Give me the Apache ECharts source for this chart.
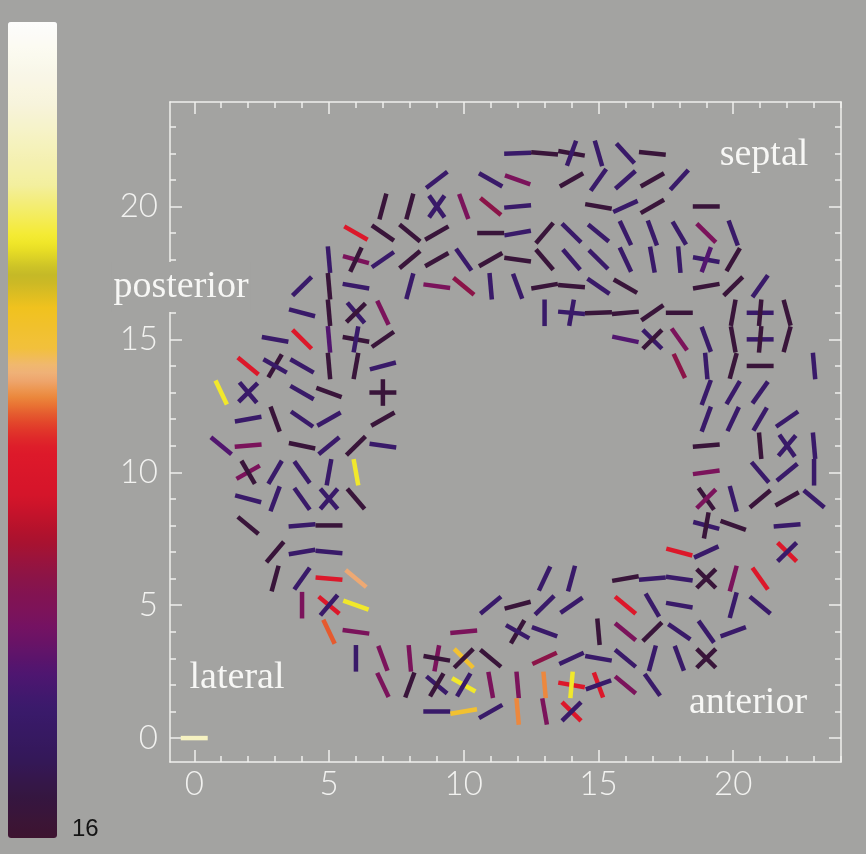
<!DOCTYPE html>
<html lang="en">
<head>
<meta charset="UTF-8">
<title>Fibre orientation map</title>
<style>
  html, body { margin: 0; padding: 0; background: #a3a3a1; }
  #main { width: 866px; height: 854px; }
</style>
</head>
<body>
<div id="main"></div>
<script src="https://cdn.jsdelivr.net/npm/echarts/dist/echarts.min.js"></script>
<script>
// colour levels (0 = white top, 16 = dark bottom)
const D = 15.5, B = 13.6, P = 12.7, M = 11.6, MR = 10.9, R = 8.6,
      OR = 7.7, O = 7.35, PE = 7.0, G = 6.1, Y = 4.3, LY = 2.3;

// segments: [x, y, angle (deg), level]
const upperRows = [
  [12,22,2,B],[13,22,-5,D],[14,22,-10,D],[14,22,70,B],[15,22,106,B],[16,22,132,B],[17,22,-6,D],
  [9,21,38,B],[11,21,150,B],[12,21,160,M],[14,21,30,D],[15,21,55,B],[16,21,42,B],[17,21,30,D],[18,21,48,B],
  [7,20,75,D],[8,20,75,D],[9,20,55,B],[9,20,125,B],[10,20,110,M],[11,20,140,MR],[12,20,5,B],
  [15,20,-10,D],[16,20,25,B],[17,20,30,D],[19,20,0,D],
  [6,19,150,R],[7,19,145,D],[8,19,140,D],[9,19,30,D],[11,19,0,D],[12,19,10,B],[13,19,50,D],
  [14,19,135,B],[15,19,140,B],[16,19,115,B],[17,19,110,B],[18,19,120,B],[19,19,135,M],[20,19,110,B],
  [5,18,95,B],[6,18,165,M],[6,18,65,D],[7,18,35,B],[8,18,40,D],[9,18,30,D],[10,18,125,B],[11,18,30,D],
  [12,18,172,D],[13,18,130,D],[14,18,130,B],[15,18,135,B],[16,18,115,B],[17,18,100,B],[18,18,95,B],
  [19,18,-10,B],[19,18,70,P],[20,18,60,D],
  [4,17,45,B],[5,17,95,D],[6,17,170,B],[8,17,75,B],[9,17,172,M],[10,17,140,MR],[11,17,95,B],
  [12,17,110,B],[13,17,10,D],[14,17,-5,D],[15,17,145,B],[16,17,150,D],[19,17,10,D],[20,17,45,D],[21,17,55,B],
  [4,16,165,B],[5,16,95,D],[6,16,130,B],[6,16,45,D],[7,16,115,M],[13,16,90,B],[14,16,-5,B],[14,16,80,B],
  [15,16,2,D],[16,16,5,D],[17,16,35,D],[18,16,0,D],[20,16,80,D],[21,16,0,B],[21,16,85,D],[22,16,105,D],
  [3,15,170,B],[4,15,135,R],[5,15,95,P],[6,15,170,D],[6,15,80,B],[7,15,35,D],[16,15,168,P],
  [17,15,135,B],[17,15,45,D],[18,15,125,M],[19,15,110,B],[20,15,100,D],[21,15,0,B],[21,15,85,D],[22,15,75,D]
];

const middleRows = [
  [2,14,140,R],[3,14,60,D],[3,14,150,B],[4,14,150,B],[5,14,95,D],[6,14,80,D],[7,14,15,B],
  [18,14,115,MR],[19,14,95,B],[20,14,75,D],[21,14,0,D],[23,14,95,B],
  [1,13,115,Y],[2,13,45,B],[2,13,130,B],[4,13,150,B],[5,13,160,D],[7,13,0,D],[7,13,90,D],
  [19,13,70,B],[20,13,60,B],[21,13,55,B],
  [2,12,10,B],[3,12,110,D],[4,12,145,B],[5,12,30,B],[7,12,30,D],[19,12,70,B],[20,12,65,B],[21,12,60,B],[22,12,35,B],
  [1,11,140,P],[2,11,5,M],[4,11,168,D],[5,11,40,B],[6,11,45,D],[7,11,172,B],
  [19,11,5,D],[21,11,95,D],[22,11,125,B],[22,11,50,B],[23,11,95,B],
  [2,10,30,M],[2,10,120,D],[3,10,60,B],[4,10,125,B],[5,10,80,B],[6,10,100,Y],
  [19,10,8,M],[21,10,130,B],[22,10,40,B],[23,10,90,B],
  [2,9,165,B],[3,9,70,B],[4,9,125,B],[5,9,50,B],[5,9,130,B],[6,9,130,D],
  [19,9,125,D],[19,9,45,M],[20,9,105,B],[21,9,40,D],[22,9,30,D],[23,9,140,B],
  [2,8,140,D],[4,8,5,B],[5,8,0,D],[19,8,-15,B],[19,8,80,D],[20,8,160,D],[22,8,5,B]
];

const lowerRows = [
  [3,7,50,D],[4,7,10,B],[5,7,-5,B],[18,7,165,R],[19,7,25,B],[22,7,135,R],[22,7,45,B],
  [3,6,75,D],[4,6,55,B],[5,6,-5,R],[6,6,140,PE],[13,6,65,B],[14,6,75,B],[16,6,10,D],[17,6,5,B],
  [18,6,-8,B],[19,6,135,D],[19,6,45,D],[20,6,75,M],[21,6,125,R],
  [4,5,90,M],[5,5,140,R],[5,5,50,B],[6,5,160,Y],[11,5,40,B],[12,5,15,D],[13,5,45,B],[14,5,35,B],
  [16,5,140,R],[17,5,120,B],[18,5,170,B],[20,5,75,B],[21,5,140,B],
  [5,4,115,OR],[6,4,172,M],[10,4,5,M],[12,4,60,D],[12,4,150,B],[13,4,160,B],[15,4,95,D],
  [16,4,140,M],[17,4,45,D],[18,4,145,B],[19,4,125,B],[20,4,20,B],
  [6,3,90,B],[7,3,110,M],[8,3,95,M],[9,3,80,M],[9,3,-10,D],[10,3,135,G],[10,3,45,D],[11,3,140,D],
  [13,3,25,MR],[14,3,25,B],[15,3,-10,B],[16,3,140,B],[17,3,75,B],[18,3,110,B],[19,3,135,D],[19,3,45,D],
  [7,2,115,M],[8,2,70,D],[9,2,140,B],[9,2,60,D],[10,2,150,Y],[10,2,60,B],[11,2,100,M],[12,2,95,M],
  [13,2,95,O],[14,2,-10,R],[14,2,85,Y],[15,2,110,R],[15,2,20,B],[16,2,140,M],[17,2,125,B],
  [9,1,0,B],[10,1,10,G],[11,1,30,B],[12,1,95,O],[13,1,100,M],[14,1,135,R],[14,1,45,B]
];

// reference bar at the origin
const keySegment = [[0,0,0,LY]];

const xLabels = [0, 5, 10, 15, 20];
const yLabels = [0, 5, 10, 15, 20];
const unitTicks = Array.from({length: 25}, (_, i) => i);

// colour scale, top (white) to bottom (dark)
const scaleStops = [
  [0.00,'#fdfdfc'],[0.10,'#f7f4dc'],[0.20,'#f3ef9e'],[0.27,'#f4ea24'],[0.31,'#c0b628'],
  [0.35,'#f0c21e'],[0.40,'#f2c03c'],[0.43,'#efb486'],[0.46,'#ec8838'],[0.49,'#e2462a'],
  [0.52,'#de1a2a'],[0.58,'#d6142a'],[0.63,'#ae122c'],[0.68,'#8a1448'],[0.74,'#761262'],
  [0.80,'#4e1670'],[0.84,'#3a1a6c'],[0.90,'#34185a'],[0.95,'#351640'],[1.00,'#3e1430']
];

function hexToRgb(h) {
  return [1, 3, 5].map(i => parseInt(h.slice(i, i + 2), 16));
}
function sampleScale(n) {
  const out = [];
  for (let k = 0; k < n; k++) {
    const t = k / (n - 1);
    let j = 0;
    while (j < scaleStops.length - 2 && scaleStops[j + 1][0] < t) j++;
    const [t0, c0] = scaleStops[j], [t1, c1] = scaleStops[j + 1];
    const f = Math.min(1, Math.max(0, (t - t0) / (t1 - t0)));
    const a = hexToRgb(c0), b = hexToRgb(c1);
    out.push('rgb(' + a.map((v, i) => Math.round(v + (b[i] - v) * f)).join(',') + ')');
  }
  return out;
}

const segments = upperRows.concat(middleRows, lowerRows, keySegment)
  .map(s => [s[0], s[1], s[2], s[3], s[4] || 1]);

function renderSegment(params, api) {
  const x = api.value(0), y = api.value(1);
  const a = api.value(2) * Math.PI / 180, half = api.value(4) / 2;
  const p1 = api.coord([x - Math.cos(a) * half, y - Math.sin(a) * half]);
  const p2 = api.coord([x + Math.cos(a) * half, y + Math.sin(a) * half]);
  return {
    type: 'line',
    shape: {x1: p1[0], y1: p1[1], x2: p2[0], y2: p2[1]},
    style: {stroke: api.visual('color'), lineWidth: 4.5, lineCap: 'butt'}
  };
}

const frame = '#efefed';
const labelFont = {color: '#f2f2f0', fontFamily: 'Lato', fontWeight: 300, fontSize: 33};

function makeAxis(pos, min, max, extra) {
  return Object.assign({
    type: 'value', position: pos, min: min, max: max,
    axisLine: {show: true, onZero: false, lineStyle: {color: frame, width: 1.5}},
    splitLine: {show: false},
    axisLabel: {show: false},
    axisTick: {show: true, inside: true, length: 6, customValues: unitTicks,
               lineStyle: {color: frame, width: 1.5}}
  }, extra || {});
}
function majorTicks(pos, min, max, ticks) {
  return makeAxis(pos, min, max, {
    axisLine: {show: false, onZero: false},
    axisTick: {show: true, inside: true, length: 12, customValues: ticks,
               lineStyle: {color: frame, width: 1.5}}
  });
}

const X_MIN = -0.9, X_MAX = 24, Y_MIN = -0.9, Y_MAX = 23.93;

const option = {
  backgroundColor: '#a3a3a1',
  animation: false,
  grid: {left: 170, right: 25, top: 102, bottom: 92},
  xAxis: [
    makeAxis('bottom', X_MIN, X_MAX, {
      axisLabel: Object.assign({show: true, customValues: xLabels, margin: 6}, labelFont)
    }),
    majorTicks('bottom', X_MIN, X_MAX, xLabels),
    makeAxis('top', X_MIN, X_MAX),
    majorTicks('top', X_MIN, X_MAX, xLabels)
  ],
  yAxis: [
    makeAxis('left', Y_MIN, Y_MAX, {
      axisLabel: Object.assign({show: true, customValues: yLabels, margin: 12}, labelFont)
    }),
    majorTicks('left', Y_MIN, Y_MAX, yLabels),
    makeAxis('right', Y_MIN, Y_MAX),
    majorTicks('right', Y_MIN, Y_MAX, yLabels)
  ],
  visualMap: {
    type: 'continuous', min: 0, max: 16, dimension: 3, seriesIndex: 0,
    inverse: true, calculable: false, left: 8, top: 22, padding: 0,
    itemWidth: 49, itemHeight: 816,
    inRange: {color: sampleScale(81)}
  },
  graphic: [
    {type: 'text', left: 72, top: 817,
     style: {text: '16', fill: '#141414', font: '24px "Liberation Sans", Arial, sans-serif'}},
    {type: 'text', x: 764, y: 155,
     style: {text: 'septal', fill: '#f7f7f5', font: '38px "Liberation Serif", serif',
             textAlign: 'center', textVerticalAlign: 'middle'}},
    {type: 'text', x: 181, y: 287, z: 100,
     style: {text: 'posterior', fill: '#f7f7f5', font: '38px "Liberation Serif", serif',
             textAlign: 'center', textVerticalAlign: 'middle',
             backgroundColor: '#a3a3a1', padding: [6, 2]}},
    {type: 'text', x: 237, y: 678,
     style: {text: 'lateral', fill: '#f7f7f5', font: '38px "Liberation Serif", serif',
             textAlign: 'center', textVerticalAlign: 'middle'}},
    {type: 'text', x: 748, y: 703,
     style: {text: 'anterior', fill: '#f7f7f5', font: '38px "Liberation Serif", serif',
             textAlign: 'center', textVerticalAlign: 'middle'}}
  ],
  series: [{
    type: 'custom',
    xAxisIndex: 0, yAxisIndex: 0,
    renderItem: renderSegment,
    encode: {x: 0, y: 1},
    data: segments
  }]
};

const myChart = echarts.init(document.getElementById('main'));
myChart.setOption(option);
</script>
</body>
</html>
